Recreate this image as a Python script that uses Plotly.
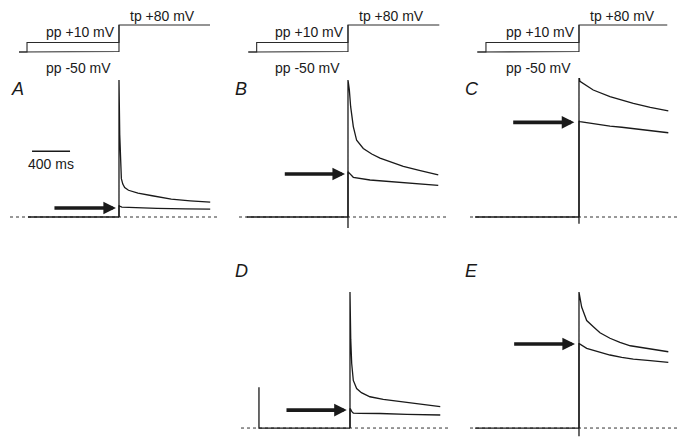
import plotly.graph_objects as go

W, H = 685, 444
OFF = 8  # page body margin in the browser window

# ---------------- data (time in ms, t=0 = start of test pulse; current normalised) ---------------
panels = ["A", "B", "C", "D", "E"]

# upper (pp +10 mV) traces
upper_t = {
    "A": [0, 0, 8, 15, 25, 40, 60, 100, 200, 350, 550, 750, 960],
    "B": [0, 0, 14, 28, 56, 91, 161, 250, 337, 450, 582, 750, 950],
    "C": [0, 0, 10, 150, 326, 450, 572, 750, 940],
    "D": [0, 0, 8, 18, 35, 70, 120, 210, 350, 560, 750, 950],
    "E": [0, 0, 28, 46, 81, 151, 221, 326, 431, 540, 712, 940],
}
upper_i = {
    "A": [0.0, 1.0, 0.6, 0.38, 0.28, 0.24, 0.215, 0.195, 0.175, 0.155, 0.13, 0.118, 0.108],
    "B": [-0.08, 1.0, 0.93, 0.805, 0.66, 0.56, 0.50, 0.46, 0.43, 0.40, 0.37, 0.34, 0.307],
    "C": [-0.05, 1.03, 0.99, 0.927, 0.878, 0.853, 0.83, 0.80, 0.774],
    "D": [0.0, 1.0, 0.65, 0.475, 0.35, 0.29, 0.26, 0.23, 0.21, 0.19, 0.172, 0.157],
    "E": [-0.06, 1.0, 0.89, 0.855, 0.79, 0.745, 0.70, 0.66, 0.63, 0.605, 0.585, 0.561],
}
# lower (pp -50 mV) traces
lower_t = {
    "A": [0, 0, 5, 30, 150, 400, 700, 960],
    "B": [0, 0, 14, 56, 232, 400, 582, 750, 950],
    "C": [0, 0, 10, 150, 326, 450, 572, 750, 940],
    "D": [0, 0, 5, 20, 35, 100, 316, 600, 950],
    "E": [0, 0, 3, 81, 200, 326, 450, 572, 750, 940],
}
lower_i = {
    "A": [0.0, 0.085, 0.08, 0.072, 0.068, 0.063, 0.06, 0.058],
    "B": [0.0, 0.33, 0.32, 0.29, 0.27, 0.26, 0.25, 0.24, 0.231],
    "C": [0.0, 0.70, 0.696, 0.68, 0.664, 0.655, 0.645, 0.63, 0.615],
    "D": [0.0, 0.14, 0.14, 0.12, 0.11, 0.108, 0.107, 0.10, 0.096],
    "E": [0.0, 0.62, 0.62, 0.586, 0.56, 0.537, 0.52, 0.507, 0.495, 0.483],
}
# holding-current baseline before the test pulse
base_t = {
    "A": [-958, 0],
    "B": [-1066, 0],
    "C": [-1094, 0],
    "D": [-958, -958, 0],
    "E": [-1094, 0],
}
base_i = {
    "A": [0, 0],
    "B": [0, 0],
    "C": [0, 0],
    "D": [0.30, 0, 0],
    "E": [0, 0],
}
# arrows marking the instantaneous current at the start of the test pulse
arrow_t0 = {"A": -695, "B": -681, "C": -708, "D": -684, "E": -698}
arrow_t1 = {"A": -32, "B": -31, "C": -49, "D": -34, "E": -42}
arrow_i = {"A": 0.066, "B": 0.314, "C": 0.691, "D": 0.132, "E": 0.618}

# scale bar
scale_t = [-915, -515]
scale_i = [0.48, 0.48]
scale_label = "400 ms"

# voltage protocol (schematic levels)
prot_cols = ["A", "B", "C"]
prot_hold_t = {"A": -1052, "B": -1049, "C": -1070}
prot_pp_t = {"A": -968, "B": -961, "C": -979}
prot_end_t = {"A": 958, "B": 961, "C": 929}
lvl_hold, lvl_pp_lo, lvl_pp_hi, lvl_tp = 0.0, 0.05, 1.0, 2.85
prot_labels = ["tp +80 mV", "pp +10 mV", "pp -50 mV"]
prot_label_t = [453, -410, -426]
prot_label_lvl = [3.75, 2.07, -1.72]

T_RANGE = [-1147, 1042]

# ---------------- layout helpers ----------------
FW, FH = W - OFF, H - OFF

def px_x(a, b):
    return [(a - OFF) / FW, (b - OFF) / FW]

def px_y(top, bottom):
    return [1 - (bottom - OFF) / FH, 1 - (top - OFF) / FH]

panel_xdom = {"A": (10, 218), "B": (239, 447), "C": (470, 678), "D": (241, 449), "E": (470, 678)}
panel_ydom = {"A": (78, 232), "B": (78, 232), "C": (78, 232), "D": (290, 443), "E": (290, 443)}
panel_yrange = {"A": [-0.1095, 1.0146], "B": [-0.1095, 1.0146], "C": [-0.1095, 1.0146],
                "D": [-0.110, 1.015], "E": [-0.110, 1.015]}
label_pos = {"A": (9, 89), "B": (233, 89), "C": (463, 89), "D": (233, 271), "E": (463, 271)}

fig = go.Figure()
layout = dict(width=FW, height=FH, margin=dict(l=0, r=0, t=0, b=0),
              paper_bgcolor="white", plot_bgcolor="white", showlegend=False)
annotations = []
ink = "#1a1a1a"

def axname(k):
    return ("xaxis", "yaxis") if k == 1 else (f"xaxis{k}", f"yaxis{k}")

def ref(k):
    return ("x", "y") if k == 1 else (f"x{k}", f"y{k}")

for k, p in enumerate(panels, start=1):
    xa, ya = axname(k)
    xr, yr = ref(k)
    layout[xa] = dict(domain=px_x(*panel_xdom[p]), range=T_RANGE, visible=False,
                      anchor=yr, fixedrange=True)
    layout[ya] = dict(domain=px_y(*panel_ydom[p]), range=panel_yrange[p], visible=False,
                      anchor=xr, fixedrange=True)
    # dotted zero-current line
    fig.add_trace(go.Scatter(x=T_RANGE, y=[0, 0], mode="lines", xaxis=xr, yaxis=yr,
                             line=dict(color="#333", width=1, dash="3px,3px")))
    fig.add_trace(go.Scatter(x=base_t[p], y=base_i[p], mode="lines", xaxis=xr, yaxis=yr,
                             line=dict(color=ink, width=1.3)))
    fig.add_trace(go.Scatter(x=upper_t[p], y=upper_i[p], mode="lines", xaxis=xr, yaxis=yr,
                             line=dict(color=ink, width=1.3)))
    fig.add_trace(go.Scatter(x=lower_t[p], y=lower_i[p], mode="lines", xaxis=xr, yaxis=yr,
                             line=dict(color=ink, width=1.3)))
    annotations.append(dict(x=arrow_t1[p], y=arrow_i[p], ax=arrow_t0[p], ay=arrow_i[p],
                            xref=xr, yref=yr, axref=xr, ayref=yr, text="", showarrow=True,
                            arrowhead=2, arrowsize=0.7, arrowwidth=3.6, arrowcolor=ink,
                            standoff=0, startstandoff=0))
    lx, ly = label_pos[p]
    annotations.append(dict(x=(max(lx, OFF + 1) - OFF) / FW, y=1 - (ly - OFF) / FH,
                            xref="paper", yref="paper",
                            text=f"<i>{p}</i>", showarrow=False,
                            font=dict(family="Liberation Sans", size=18, color=ink),
                            xanchor="left", yanchor="middle"))

# scale bar in panel A
fig.add_trace(go.Scatter(x=scale_t, y=scale_i, mode="lines", xaxis="x", yaxis="y",
                         line=dict(color=ink, width=1.6)))
annotations.append(dict(x=sum(scale_t) / 2, y=0.39, xref="x", yref="y", text=scale_label,
                        showarrow=False, font=dict(family="Liberation Sans", size=14, color=ink)))

# protocols
for j, c in enumerate(prot_cols):
    k = 6 + j
    xa, ya = axname(k)
    xr, yr = ref(k)
    layout[xa] = dict(domain=px_x(*panel_xdom[c]), range=T_RANGE, visible=False,
                      anchor=yr, fixedrange=True)
    layout[ya] = dict(domain=px_y(9, 76), range=[-2.53, 4.53], visible=False,
                      anchor=xr, fixedrange=True)
    th, tpp, te = prot_hold_t[c], prot_pp_t[c], prot_end_t[c]
    fig.add_trace(go.Scatter(x=[th, tpp, tpp, 0, 0, te],
                             y=[lvl_hold, lvl_hold, lvl_pp_hi, lvl_pp_hi, lvl_tp, lvl_tp],
                             mode="lines", xaxis=xr, yaxis=yr, line=dict(color="#2a2a2a", width=1.1)))
    fig.add_trace(go.Scatter(x=[th, tpp, tpp, 0, 0],
                             y=[lvl_hold, lvl_hold, lvl_pp_lo, lvl_pp_lo, lvl_tp],
                             mode="lines", xaxis=xr, yaxis=yr, line=dict(color="#2a2a2a", width=1.1)))
    for txt, tt, lv in zip(prot_labels, prot_label_t, prot_label_lvl):
        annotations.append(dict(x=tt, y=lv, xref=xr, yref=yr, text=txt, showarrow=False,
                                font=dict(family="Liberation Sans", size=14, color=ink),
                                xanchor="center", yanchor="middle"))

layout["annotations"] = annotations
fig.update_layout(**layout)
fig.write_html("out.html")
